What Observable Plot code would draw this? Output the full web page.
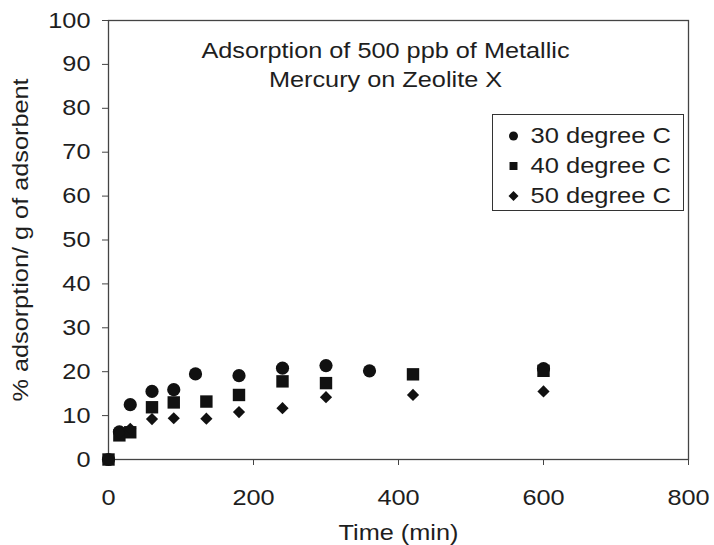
<!DOCTYPE html>
<html><head><meta charset="utf-8">
<script src="https://cdn.jsdelivr.net/npm/d3@7"></script>
<script src="https://cdn.jsdelivr.net/npm/@observablehq/plot@0.6"></script>
<style>
body{margin:0;background:#fff;}
#wrap{position:relative;width:714px;height:545px;background:#fff;}
#legend{position:absolute;left:492px;top:114px;border:1.5px solid #333;background:#fff;line-height:0;}
</style></head><body><div id="wrap"><div id="legend"></div></div>
<script>
const seriesNames = ["30 degree C", "40 degree C", "50 degree C"];
const time30 = [0, 15, 30, 60, 90, 120, 180, 240, 300, 360, 600];
const pct30  = [0, 6.3, 12.5, 15.5, 15.9, 19.5, 19.1, 20.8, 21.4, 20.2, 20.7];
const time40 = [0, 15, 30, 60, 90, 135, 180, 240, 300, 420, 600];
const pct40  = [0, 5.5, 6.2, 11.9, 13.0, 13.2, 14.7, 17.8, 17.4, 19.4, 20.2];
const time50 = [0, 15, 30, 60, 90, 135, 180, 240, 300, 420, 600];
const pct50  = [0, 6.0, 7.0, 9.2, 9.4, 9.3, 10.8, 11.7, 14.2, 14.7, 15.5];
const xTicks = [0, 200, 400, 600, 800];
const yTicks = [0, 10, 20, 30, 40, 50, 60, 70, 80, 90, 100];
const titleLines = ["Adsorption of 500 ppb of Metallic", "Mercury on Zeolite X"];
const xLabel = "Time (min)";
const yLabel = "% adsorption/ g of adsorbent";

const font = "'Liberation Sans', Arial, sans-serif";
const rows = (t, v, s) => t.map((x, i) => ({time: x, pct: v[i], series: s}));
const d30 = rows(time30, pct30, seriesNames[0]);
const d40 = rows(time40, pct40, seriesNames[1]);
const d50 = rows(time50, pct50, seriesNames[2]);

const chart = Plot.plot({
  width: 714, height: 545,
  marginTop: 20, marginLeft: 108, marginRight: 26, marginBottom: 86,
  style: {fontFamily: font, fontSize: "22px", color: "#1e1e1e", background: "#fff"},
  x: {domain: [0, 800]},
  y: {domain: [0, 100]},
  marks: [
    Plot.frame({stroke: "#444", strokeWidth: 1.3}),
    Plot.axisY({ticks: yTicks, tickSize: 6, tickPadding: 12, stroke: "#444", fill: "#1e1e1e", fontSize: 22,
      label: yLabel, labelAnchor: "center", labelOffset: 96, labelArrow: "none"}),
    Plot.axisX({ticks: xTicks, tickSize: 6, tickPadding: 24, stroke: "#444", fill: "#1e1e1e", fontSize: 22,
      label: xLabel, labelAnchor: "center", labelOffset: 80, labelArrow: "none"}),
    Plot.text([titleLines.join("\n")], {frameAnchor: "top", dx: -13, dy: 18, lineAnchor: "top",
      lineHeight: 1.28, fontSize: 22, fill: "#1e1e1e"}),
    Plot.dot(d30, {x: "time", y: "pct", symbol: "circle", r: 6.6, fill: "#111"}),
    Plot.dot(d40, {x: "time", y: "pct", symbol: "square", r: 7, fill: "#111"}),
    Plot.dot(d50, {x: "time", y: "pct", symbol: "diamond2", r: 5.5, fill: "#111"})
  ]
});
document.getElementById("wrap").prepend(chart);

const legend = Plot.plot({
  width: 190, height: 95, marginTop: 0, marginBottom: 0, marginLeft: 0, marginRight: 0,
  style: {fontFamily: font, fontSize: "22px", color: "#1e1e1e", background: "#fff"},
  y: {domain: seriesNames, type: "band", axis: null, range: [3, 97]},
  symbol: {domain: seriesNames, range: ["circle", "square", "diamond2"]},
  marks: [
    Plot.dot(seriesNames, {y: d => d, symbol: d => d, frameAnchor: "left", dx: 20, r: 4.5, fill: "#111"}),
    Plot.text(seriesNames, {y: d => d, text: d => d, frameAnchor: "left", dx: 37, textAnchor: "start", fontSize: 22, fill: "#1e1e1e"})
  ]
});
document.getElementById("legend").append(legend);

// widen the glyphs horizontally (the source font is a stretched sans), keeping each text's anchor fixed
function stretchText(svg, s) {
  svg.querySelectorAll("text").forEach(t => {
    const b = t.getBBox();
    const anchor = getComputedStyle(t).textAnchor;
    const ox = anchor === "start" ? b.x : anchor === "end" ? b.x + b.width : b.x + b.width / 2;
    const oy = b.y + b.height / 2;
    const tl = t.transform.baseVal;
    const m = tl.numberOfItems ? tl.consolidate().matrix : {a: 1, b: 0, c: 0, d: 1, e: 0, f: 0};
    const px = m.a * ox + m.c * oy + m.e, py = m.b * ox + m.d * oy + m.f;
    const g = document.createElementNS("http://www.w3.org/2000/svg", "g");
    const vertical = Math.abs(m.b) > 0.5;
    g.setAttribute("transform", vertical ? `matrix(1,0,0,${s},0,${py * (1 - s)})` : `matrix(${s},0,0,1,${px * (1 - s)},0)`);
    t.parentNode.insertBefore(g, t);
    g.appendChild(t);
  });
}
stretchText(chart, 1.15);
stretchText(legend, 1.16);
</script>
</body></html>
